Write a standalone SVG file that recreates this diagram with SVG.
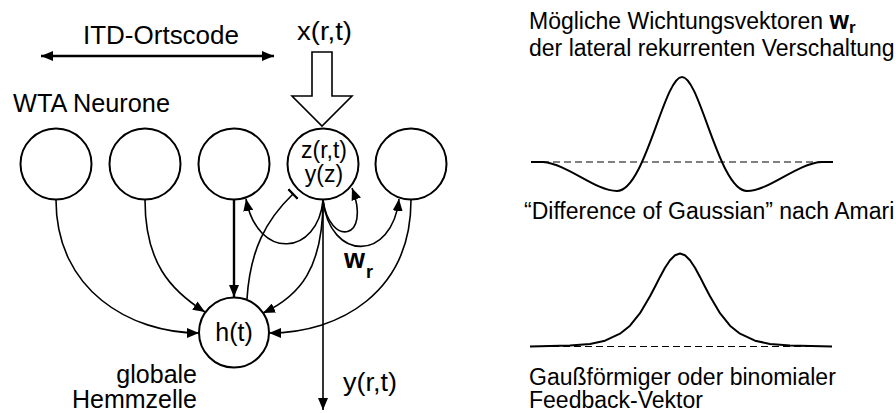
<svg xmlns="http://www.w3.org/2000/svg" width="896" height="413" viewBox="0 0 896 413">
<defs>
<style>
text{font-family:"Liberation Sans",Arial,sans-serif;fill:#000}
.lbl{font-size:25px}
.in{font-size:23px}
.rt{font-size:23px}
.node{fill:#fff;stroke:#000;stroke-width:2}
.c{fill:none;stroke:#000;stroke-width:1.6}
.curve{fill:none;stroke:#000;stroke-width:2;stroke-linejoin:round}
.dash{fill:none;stroke:#000;stroke-width:1;stroke-dasharray:7 4}
</style>
<marker id="ah" markerUnits="userSpaceOnUse" markerWidth="12" markerHeight="10" viewBox="0 0 12 10" refX="12" refY="5" orient="auto-start-reverse">
<path d="M0,0 L12,5 L0,10 z" fill="#000"/>
</marker>
<marker id="tee" markerUnits="userSpaceOnUse" markerWidth="4" markerHeight="14" viewBox="0 0 4 14" refX="2" refY="7" orient="auto">
<path d="M2,0 L2,14" stroke="#000" stroke-width="2.4"/>
</marker>
</defs>
<rect width="896" height="413" fill="#fff"/>

<g id="labels">
<text class="lbl" x="83" y="44" textLength="156" lengthAdjust="spacingAndGlyphs">ITD-Ortscode</text>
<text class="lbl" x="297" y="40" textLength="55" lengthAdjust="spacingAndGlyphs">x(r,t)</text>
<text class="lbl" x="13" y="112" textLength="157" lengthAdjust="spacingAndGlyphs">WTA Neurone</text>
<text class="lbl" x="197" y="383" text-anchor="end">globale</text>
<text class="lbl" x="197" y="408" text-anchor="end">Hemmzelle</text>
<text class="lbl" x="343" y="391" textLength="54" lengthAdjust="spacingAndGlyphs">y(r,t)</text>
<text x="344" y="268" style="font-size:27px;font-weight:bold">w</text>
<text x="366" y="278" style="font-size:18px;font-weight:bold">r</text>
</g>

<g id="itd-arrow">
<line x1="41" y1="56" x2="274" y2="56" stroke="#000" stroke-width="2.5" marker-start="url(#ah)" marker-end="url(#ah)"/>
</g>
<g id="input-arrow">
<polygon points="312,52 332,52 332,96 352,96 322,126 292,96 312,96" fill="#fff" stroke="#000" stroke-width="1.6"/>
</g>

<g id="connectors">
<path class="c" d="M56,200 C56,290 130,333 199,333" marker-end="url(#ah)"/>
<path class="c" d="M145,200 C145,262 170,290 205,312" marker-end="url(#ah)"/>
<path class="c" d="M234,200 L234,297" style="stroke-width:2.4" marker-end="url(#ah)"/>
<path class="c" d="M247,299 C250,250 266,220 293,194" marker-end="url(#tee)"/>
<path class="c" d="M323,200 C318,255 258,262 246,199" marker-end="url(#ah)"/>
<path class="c" d="M323,200 C330,248 372,240 352,188" marker-end="url(#ah)"/>
<path class="c" d="M323,200 C330,262 392,262 399,199" marker-end="url(#ah)"/>
<path class="c" d="M323,200 C323,268 300,296 263,313" marker-end="url(#ah)"/>
<path class="c" d="M411,200 C411,292 340,333 269,333" marker-end="url(#ah)"/>
<path class="c" d="M323,200 L323,410" marker-end="url(#ah)"/>
</g>

<g id="n1"><circle class="node" cx="56" cy="164" r="35.5"/></g>
<g id="n2"><circle class="node" cx="145" cy="164" r="35.5"/></g>
<g id="n3"><circle class="node" cx="234" cy="164" r="35.5"/></g>
<g id="n4"><circle class="node" cx="323" cy="164" r="35.5"/>
<text class="in" x="324" y="158" text-anchor="middle">z(r,t)</text>
<text class="in" x="324" y="182" text-anchor="middle">y(z)</text></g>
<g id="n5"><circle class="node" cx="411" cy="164" r="35.5"/></g>
<g id="h"><circle class="node" cx="234" cy="332.5" r="35"/>
<text class="lbl" x="234" y="341" text-anchor="middle">h(t)</text></g>

<g id="right-panel">
<text class="rt" x="529" y="29">Mögliche Wichtungsvektoren <tspan style="font-weight:bold;font-size:25px">w</tspan><tspan style="font-weight:bold;font-size:17px" dy="4">r</tspan></text>
<text class="rt" x="529" y="56">der lateral rekurrenten Verschaltung</text>
<line class="dash" x1="531" y1="162" x2="833" y2="162"/>
<path class="curve" d="M531,162 L543,162 C568,164 595,191 617,191 C645,191 664,77 682,77 C700,77 719,191 747,191 C769,191 796,164 821,162 L833,162"/>
<text class="rt" x="524" y="219">“Difference of Gaussian” nach Amari</text>
<line class="dash" x1="530" y1="346.5" x2="832" y2="346.5"/>
<path class="curve" d="M530,346.4 L570,345.6 L590,343.9 L605,340.7 L620,333.7 L630,325.7 L640,313.2 L650,296.3 L655,286.7 L660,276.9 L665,267.7 L670,260.2 L675,255.2 L680,253.5 L685,255.2 L690,260.2 L695,267.7 L700,276.9 L705,286.7 L710,296.3 L720,313.2 L730,325.7 L740,333.7 L755,340.7 L770,343.9 L790,345.6 L832,346.4"/>
<text class="rt" x="529" y="385">Gaußförmiger oder binomialer</text>
<text class="rt" x="529" y="408">Feedback-Vektor</text>
</g>
</svg>
